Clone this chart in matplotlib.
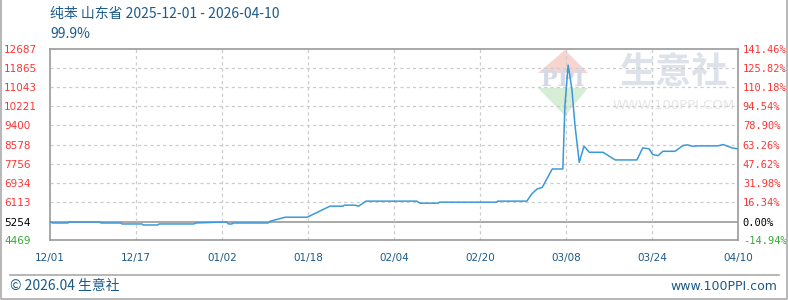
import matplotlib
matplotlib.use("Agg")
import matplotlib.pyplot as plt
from matplotlib.patches import Polygon
from matplotlib.lines import Line2D

plt.rcParams['font.family'] = ['Noto Sans CJK SC', 'DejaVu Sans']

# price series (day offset from 2025-12-01, price)
days = [0, 0.5, 3.4, 3.6, 9.4, 9.6, 13.4, 13.6, 17.4, 17.6, 20.4, 20.6, 27.2, 27.6,
        33.4, 33.7, 34.4, 34.6, 41.2, 41.6, 42.3, 43.0, 43.7, 44.4, 48.6, 52.9, 55.4,
        55.6, 57.6, 58.3, 59.7, 69.3, 69.9, 73.4, 73.6, 84.4, 84.6, 90.1, 91.0, 92.0,
        93.0, 94.9, 96.9, 97.3, 97.9, 98.6, 99.2, 100.0, 100.9, 101.9, 104.5, 106.8,
        110.9, 112.0, 113.2, 113.9, 114.9, 115.8, 118.1, 119.6, 120.4, 121.5, 122.3,
        126.2, 127.2, 128.9, 130]
prices = [5245, 5202, 5202, 5245, 5245, 5202, 5202, 5159, 5159, 5116, 5116, 5159, 5159, 5202,
          5245, 5159, 5159, 5202, 5202, 5275, 5319, 5362, 5405, 5449, 5449, 5925, 5925,
          5968, 5968, 5925, 6141, 6141, 6054, 6054, 6097, 6097, 6141, 6141, 6443, 6660,
          6729, 7525, 7525, 10262, 11992, 10985, 9397, 7810, 8502, 8243, 8243, 7914,
          7914, 8433, 8390, 8143, 8100, 8286, 8286, 8532, 8563, 8500, 8519,
          8519, 8576, 8430, 8390]

base = 5254
y_ticks = [12687, 11865, 11043, 10221, 9400, 8578, 7756, 6934, 6113, 5254, 4469]
pct_labels = ['141.46%', '125.82%', '110.18%', '94.54%', '78.90%', '63.26%', '47.62%',
              '31.98%', '16.34%', '0.00%', '-14.94%']
x_labels = ['12/01', '12/17', '01/02', '01/18', '02/04', '02/20', '03/08', '03/24', '04/10']
title = '纯苯 山东省 2025-12-01 - 2026-04-10'
subtitle = '99.9%'

W, H = 788, 300
fig = plt.figure(figsize=(W / 100, H / 100), dpi=100)
ax = fig.add_axes([50 / W, 1 - 240 / H, 688 / W, 191 / H])
ax.set_facecolor('none')


def px(x, y):
    return x / W, 1 - y / H


# watermark
wm = dict(transform=fig.transFigure, zorder=-5)
fig.patches.append(Polygon([px(538, 73), px(588, 73), px(565, 50)], closed=True,
                           fc='#f8d4cf', ec='none', **wm))
fig.patches.append(Polygon([px(538, 88), px(588, 88), px(565, 116)], closed=True,
                           fc='#d6edd6', ec='none', **wm))
fig.text(*px(563, 80), 'PPI', ha='center', va='center', fontsize=16, fontweight='bold',
         family='DejaVu Serif', color='#d3d9e6', **wm)
fig.text(*px(674, 72), '生意社', ha='center', va='center', fontsize=26, fontweight='bold',
         color='#dde2ea', **wm)
fig.text(*px(674, 106), 'WWW.100PPI.COM', ha='center', va='center', fontsize=9.5,
         family='DejaVu Sans', color='#e6e6e6', **wm)

tick_pos = [130 * i / (len(x_labels) - 1) for i in range(len(x_labels))]
ax.set_xlim(0, 130)
ax.set_ylim(4469, 12687)

for t in y_ticks[1:-1]:
    if t == base:
        ax.axhline(t, color='#999999', lw=1.2, zorder=1)
    else:
        ax.axhline(t, color='#cccccc', lw=0.9, ls=(0, (2.5, 2.5)), zorder=1)
for t in tick_pos[1:-1]:
    ax.axvline(t, color='#cccccc', lw=0.9, ls=(0, (2.5, 2.5)), zorder=1)

ax.plot(days, prices, color='#3a9ad9', lw=1.1, zorder=3)

for s in ax.spines.values():
    s.set_color('#999999')
    s.set_linewidth(1.2)

ax.set_yticks(y_ticks)
ax.set_yticklabels([str(v) for v in y_ticks], fontsize=7.5, family='DejaVu Sans', ha='left')
ax.tick_params(axis='y', length=0, pad=33)
for lab, v in zip(ax.get_yticklabels(), y_ticks):
    lab.set_color('#000000' if v == base else ('#33aa33' if v < base else '#ff3333'))

ax2 = ax.twinx()
ax2.set_ylim(ax.get_ylim())
ax2.set_yticks(y_ticks)
ax2.set_yticklabels(pct_labels, fontsize=7.5, family='DejaVu Sans Mono')
ax2.tick_params(axis='y', length=0, pad=3.5)
for lab, v in zip(ax2.get_yticklabels(), y_ticks):
    lab.set_color('#000000' if v == base else ('#33aa33' if v < base else '#ff3333'))
for s in ax2.spines.values():
    s.set_visible(False)

ax.set_xticks(tick_pos)
ax.set_xticklabels(x_labels, fontsize=7.5, family='DejaVu Sans', color='#1b5a8a')
ax.tick_params(axis='x', length=0, pad=9)

fig.text(*px(50, 14), title, ha='left', va='center', fontsize=10, color='#1b5a8a')
fig.text(*px(50, 34), subtitle, ha='left', va='center', fontsize=10, color='#1b5a8a')

# frame and footer
fig.add_artist(Line2D([10 / W, 779 / W], [1 - 275 / H] * 2, color='#aaaaaa', lw=1.2,
                      transform=fig.transFigure))
fig.add_artist(Line2D([0.8 / W, 0.8 / W, 787 / W, 787 / W], [1, 1 - 298.5 / H, 1 - 298.5 / H, 1],
                      color='#aaaaaa', lw=1.2, transform=fig.transFigure))
fig.text(*px(10, 286), '© 2026.04 生意社', ha='left', va='center', fontsize=10, color='#1b5a8a')
fig.text(*px(777, 286), 'www.100PPI.com', ha='right', va='center', fontsize=9,
         family='DejaVu Sans', color='#1b5a8a')

fig.savefig('out.png', dpi=100)
